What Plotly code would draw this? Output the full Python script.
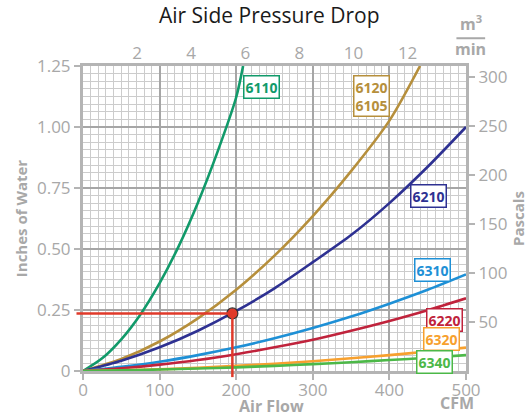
import plotly.graph_objects as go

# ---------------- data ----------------
cfm_6110 = [0, 25, 50, 75, 100, 125, 150, 175, 200, 209]
in_6110 = [0, 0.052, 0.13, 0.232, 0.36, 0.512, 0.69, 0.893, 1.122, 1.25]

cfm_6120 = [0, 50, 100, 150, 200, 250, 300, 350, 400, 440]
in_6120 = [0, 0.049, 0.121, 0.216, 0.333, 0.473, 0.635, 0.819, 1.026, 1.25]

cfm_std = [0, 50, 100, 150, 200, 250, 300, 350, 400, 450, 500]
in_6210 = [0, 0.042, 0.097, 0.165, 0.246, 0.339, 0.446, 0.557, 0.688, 0.837, 1.0]
in_6310 = [0, 0.017, 0.038, 0.065, 0.097, 0.134, 0.176, 0.223, 0.276, 0.333, 0.396]
in_6220 = [0, 0.011, 0.026, 0.045, 0.069, 0.097, 0.128, 0.165, 0.205, 0.249, 0.298]
in_6320 = [0, 0.003, 0.007, 0.013, 0.021, 0.030, 0.040, 0.052, 0.065, 0.080, 0.096]
in_6340 = [0, 0.0025, 0.006, 0.010, 0.015, 0.021, 0.028, 0.036, 0.045, 0.054, 0.065]

marker_cfm = 195
marker_in = 0.236

x_max = 500
y_max = 1.25
cfm_to_m3min = 0.0283168
in_to_pa = 249.089

x_ticks = [0, 100, 200, 300, 400, 500]
y_ticks = [0, 0.25, 0.5, 0.75, 1.0, 1.25]
y_ticklabels = ["0", "0.25", "0.50", "0.75", "1.00", "1.25"]
top_ticks = [2, 4, 6, 8, 10, 12]
pa_ticks = [50, 100, 150, 200, 250, 300]

# ---------------- styles ----------------
C_6110 = "#119a6a"
C_6120 = "#b68f3c"
C_6210 = "#2e3192"
C_6310 = "#1e90d6"
C_6220 = "#c0233c"
C_6320 = "#f7a02e"
C_6340 = "#4cb848"
C_RED = "#e03a2a"
GRAY = "#a8a8a8"
AXIS = "#b4b4b4"
FONT = "Open Sans"

fig = go.Figure()

series = [
    (cfm_6110, in_6110, C_6110),
    (cfm_6120, in_6120, C_6120),
    (cfm_std, in_6210, C_6210),
    (cfm_std, in_6310, C_6310),
    (cfm_std, in_6220, C_6220),
    (cfm_std, in_6320, C_6320),
    (cfm_std, in_6340, C_6340),
]
for xs, ys, col in series:
    fig.add_trace(go.Scatter(x=xs, y=ys, mode="lines",
                             line=dict(color=col, width=2.6, shape="spline", smoothing=0.8),
                             showlegend=False, hoverinfo="skip"))

# red point
fig.add_trace(go.Scatter(x=[marker_cfm], y=[marker_in], mode="markers",
                         marker=dict(color=C_RED, size=11, line=dict(color="#333333", width=1.2)),
                         showlegend=False, cliponaxis=False, hoverinfo="skip"))

# dummy traces for secondary axes
fig.add_trace(go.Scatter(x=[0, x_max * cfm_to_m3min], y=[None, None], xaxis="x2", yaxis="y",
                         mode="lines", showlegend=False, hoverinfo="skip"))
fig.add_trace(go.Scatter(x=[None, None], y=[0, y_max * in_to_pa], xaxis="x", yaxis="y2",
                         mode="lines", showlegend=False, hoverinfo="skip"))

# red guide lines (paper coords computed from data so they can overhang the axes)
mx = marker_cfm / x_max
my = marker_in / y_max
shapes = [
    dict(type="line", xref="paper", yref="paper", x0=-0.017, x1=mx, y0=my, y1=my,
         line=dict(color=C_RED, width=2.5), layer="above"),
    dict(type="line", xref="paper", yref="paper", x0=mx, x1=mx, y0=-0.02, y1=my,
         line=dict(color=C_RED, width=2.5), layer="above"),
    # m3/min fraction bar
    dict(type="line", xref="paper", yref="paper", x0=0.975, x1=1.05, y0=1.091, y1=1.091,
         line=dict(color=GRAY, width=2)),
]

tickfont = dict(family=FONT, size=17, color=GRAY)
titlefont = dict(family=FONT, size=15, color=GRAY, weight="bold")
unitfont = dict(family=FONT, size=16, color=GRAY, weight="bold")

label_specs = [
    ("6110", 233, 1.164, C_6110),
    ("6120<br>6105", 377, 1.127, C_6120),
    ("6210", 451, 0.717, C_6210),
    ("6310", 456, 0.414, C_6310),
    ("6220", 472, 0.209, C_6220),
    ("6320", 468, 0.131, C_6320),
    ("6340", 459, 0.037, C_6340),
]
annotations = []
for txt, ax_, ay_, col in label_specs:
    annotations.append(dict(x=ax_, y=ay_, xref="x", yref="y", text=txt, showarrow=False,
                            font=dict(family=FONT, size=14, color=col, weight="bold"),
                            bordercolor=col, borderwidth=1.5, bgcolor="white", borderpad=1,
                            align="center"))

annotations += [
    dict(x=0.493, y=-0.115, xref="paper", yref="paper", xanchor="center", yanchor="middle",
         text="Air Flow", showarrow=False, font=unitfont),
    dict(x=0.977, y=-0.105, xref="paper", yref="paper", xanchor="center", yanchor="middle",
         text="CFM", showarrow=False, font=unitfont),
    dict(x=1.012, y=1.095, xref="paper", yref="paper", xanchor="center", yanchor="bottom",
         text="m<sup>3</sup>", showarrow=False, font=unitfont),
    dict(x=1.012, y=1.097, xref="paper", yref="paper", xanchor="center", yanchor="top",
         text="min", showarrow=False, font=unitfont),
]

fig.update_layout(
    width=528, height=416,
    margin=dict(l=83, r=62, t=66, b=45, autoexpand=False),
    paper_bgcolor="white", plot_bgcolor="white",
    title=dict(text="Air Side Pressure Drop", x=0.51, xanchor="center", y=0.962, yanchor="middle",
               font=dict(family=FONT, size=21, color="#1a1a1a")),
    shapes=shapes,
    annotations=annotations,
    hovermode=False,
    xaxis=dict(range=[0, x_max], tickvals=x_ticks, tickfont=tickfont, automargin=False,
               showline=True, linecolor=AXIS, linewidth=3,
               ticks="outside", ticklen=6, tickcolor=AXIS, tickwidth=1.5,
               ticklabelstandoff=-4,
               showgrid=True, gridcolor="#a6a6a6", gridwidth=1.8,
               minor=dict(dtick=10, showgrid=True, gridcolor="#cccccc", gridwidth=1.2,
                          ticks=""),
               zeroline=False, fixedrange=True),
    xaxis2=dict(range=[0, x_max * cfm_to_m3min], overlaying="x", side="top", automargin=False,
                tickvals=top_ticks, tickfont=tickfont, showline=True, linecolor=AXIS, linewidth=3,
                ticks="", ticklabelstandoff=-3,
                showgrid=False, zeroline=False, fixedrange=True),
    yaxis=dict(range=[0, y_max], tickvals=y_ticks, ticktext=y_ticklabels, tickfont=tickfont,
               automargin=False,
               showline=True, linecolor=AXIS, linewidth=3,
               ticks="outside", ticklen=6, tickcolor=AXIS, tickwidth=1.5,
               showgrid=True, gridcolor="#a6a6a6", gridwidth=1.8,
               minor=dict(dtick=0.03125, showgrid=True, gridcolor="#cccccc", gridwidth=1.2,
                          ticks=""),
               title=dict(text="Inches of Water", font=titlefont, standoff=6),
               zeroline=False, fixedrange=True),
    yaxis2=dict(range=[0, y_max * in_to_pa], overlaying="y", side="right", automargin=False,
                tickvals=pa_ticks, tickfont=tickfont, showline=True, linecolor=AXIS, linewidth=3,
                ticks="outside", ticklen=6, tickcolor=AXIS, tickwidth=1.5,
                showgrid=False, zeroline=False, fixedrange=True,
                title=dict(text="Pascals", font=titlefont, standoff=4)),
)

fig.write_html("out.html", config={"displayModeBar": False},
               post_script="document.body.style.margin='0';")
